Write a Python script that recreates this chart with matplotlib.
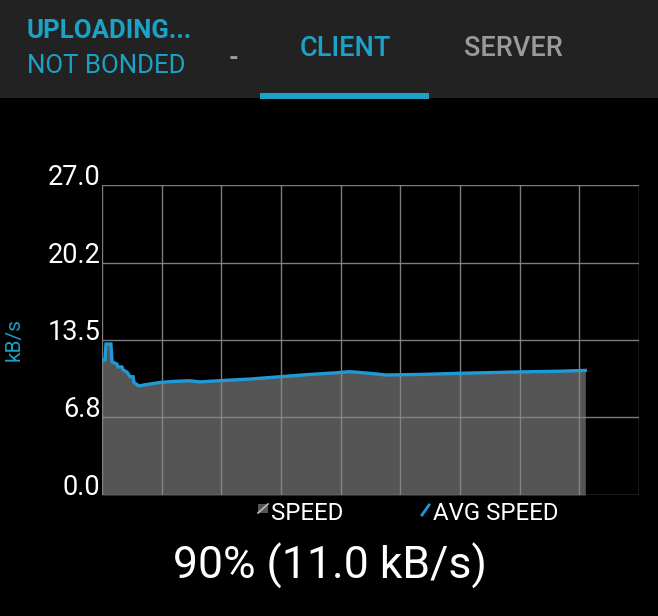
import matplotlib
matplotlib.use("Agg")
import matplotlib.pyplot as plt
from matplotlib.patches import Rectangle
from matplotlib.lines import Line2D

# ---- data ----
time_units = [0.0, 0.05, 0.067, 0.15, 0.168, 0.25, 0.268, 0.335, 0.352, 0.42,
              0.47, 0.52, 0.536, 0.62, 0.72, 0.97, 1.22, 1.47, 1.64, 1.98,
              2.48, 2.98, 3.48, 3.94, 4.15, 4.49, 4.77, 5.33, 6.0, 7.0, 7.67, 8.1]
avg_speed = [11.76, 11.76, 13.15, 13.15, 11.6, 11.4, 11.15, 11.15, 10.9, 10.7,
             10.3, 10.3, 9.8, 9.5, 9.6, 9.8, 9.9, 9.95, 9.85, 9.96,
             10.1, 10.3, 10.5, 10.65, 10.74, 10.6, 10.45, 10.5, 10.6, 10.72, 10.78, 10.85]
y_ticks = [0.0, 6.8, 13.5, 20.2, 27.0]
y_tick_labels = ["0.0", "6.8", "13.5", "20.2", "27.0"]
x_grid = list(range(10))
legend_labels = ["SPEED", "AVG SPEED"]
status_lines = ["UPLOADING...", "NOT BONDED"]
tabs = ["CLIENT", "SERVER"]
progress_text = "90% (11.0 kB/s)"

CYAN = "#1ba2c6"
LINE_BLUE = "#1f9ad6"
FILL = "#555555"
GRID = "#8a8a8a"
HEADER = "#222222"

plt.rcParams['font.family'] = ['Roboto', 'DejaVu Sans']

W, H = 658, 616
fig = plt.figure(figsize=(W / 100, H / 100), dpi=100, facecolor="black")

# header band
fig.patches.append(Rectangle((0, 1 - 98 / H), 1, 98 / H, transform=fig.transFigure,
                             facecolor=HEADER, edgecolor="none", zorder=0))
# tab underline
fig.patches.append(Rectangle((260 / W, 1 - 99 / H), (429 - 260) / W, 6 / H,
                             transform=fig.transFigure, facecolor=CYAN,
                             edgecolor="none", zorder=1))

fig.text(27 / W, 1 - 31 / H, status_lines[0], color=CYAN, fontsize=18.5,
         fontweight="bold", va="center", ha="left")
fig.text(27 / W, 1 - 66 / H, status_lines[1], color=CYAN, fontsize=18.5,
         va="center", ha="left")
fig.text(234 / W, 1 - 58 / H, "-", color="#9a9a9a", fontsize=18, fontweight="bold",
         va="center", ha="center")
fig.text(345 / W, 1 - 48 / H, tabs[0], color=CYAN, fontsize=19.5, fontweight="medium",
         va="center", ha="center")
fig.text(513 / W, 1 - 48 / H, tabs[1], color="#9a9a9a", fontsize=19.5, fontweight="medium",
         va="center", ha="center")

# axes
left, right, top, bottom = 102, 639, 185, 495
ax = fig.add_axes([left / W, 1 - bottom / H, (right - left) / W, (bottom - top) / H])
ax.set_facecolor("black")
ax.set_xlim(0, 9)
ax.set_ylim(0, 27.0)

ax.fill_between(time_units, 0, avg_speed, color=FILL, lw=0, zorder=2)
for x in x_grid:
    ax.axvline(x, color=GRID, lw=1.0, zorder=3, alpha=0.9)
for y in y_ticks:
    ax.axhline(y, color=GRID, lw=1.0, zorder=3, alpha=0.9)
ax.plot(time_units, avg_speed, color=LINE_BLUE, lw=2.4, zorder=4,
        solid_joinstyle="miter")

for s in ax.spines.values():
    s.set_visible(False)
ax.set_xticks([])
ax.set_yticks(y_ticks)
ax.set_yticklabels(y_tick_labels, color="white", fontsize=19.5)
ax.tick_params(axis="y", length=0, pad=1)
for lab in ax.get_yticklabels():
    lab.set_verticalalignment("baseline")

fig.text(14 / W, 1 - 340 / H, "kB/s", color=CYAN, fontsize=15, rotation=90,
         va="center", ha="center")

# legend
fig.patches.append(Rectangle((258 / W, 1 - 513 / H), 10 / W, 9 / H,
                             transform=fig.transFigure, facecolor=FILL,
                             edgecolor="none"))
fig.lines.append(Line2D([258 / W, 268 / W], [1 - 513 / H, 1 - 504 / H],
                        transform=fig.transFigure, color="#bbbbbb", lw=1.2))
fig.text(271 / W, 1 - 514 / H, legend_labels[0], color="white", fontsize=17.3,
         va="center", ha="left")
fig.lines.append(Line2D([422 / W, 429 / W], [1 - 515 / H, 1 - 505 / H],
                        transform=fig.transFigure, color=LINE_BLUE, lw=2))
fig.text(433 / W, 1 - 514 / H, legend_labels[1], color="white", fontsize=17.3,
         va="center", ha="left")

fig.text(330 / W, 1 - 566 / H, progress_text, color="white", fontsize=32,
         va="center", ha="center")

fig.savefig("out.png", dpi=100, facecolor="black")
